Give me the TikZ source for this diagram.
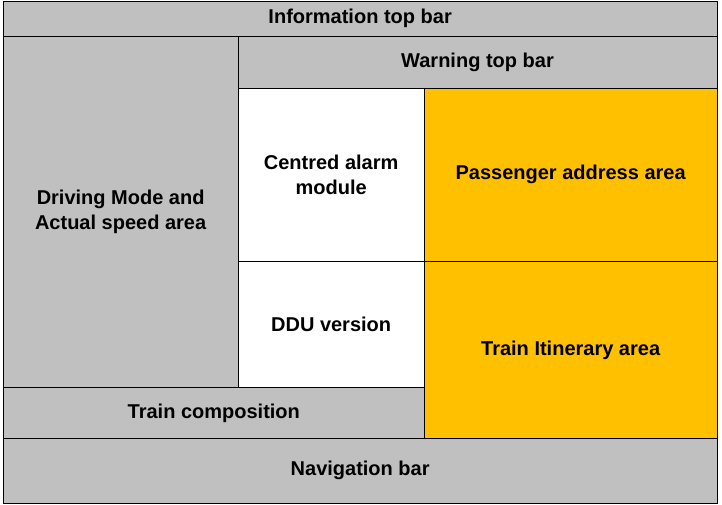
\documentclass[tikz,border=0pt]{standalone}
\usepackage{fontspec}
\setmainfont{Liberation Sans}
\tikzset{
  area/.style={draw, line width=1pt, inner sep=0pt, outer sep=0pt,
    anchor=north west, align=center,
    font=\fontsize{20}{25}\selectfont\bfseries},
  greyarea/.style={area, fill=barGrey},
  goldarea/.style={area, fill=areaGold},
  whitearea/.style={area, fill=white}
}
\definecolor{barGrey}{HTML}{C0C0C0}
\definecolor{areaGold}{HTML}{FFC000}
\begin{document}
\begin{tikzpicture}[x=1pt, y=1pt]
  \useasboundingbox (0,0) rectangle (722,-504);

  \node[greyarea, minimum width=713.7pt, minimum height=35.3pt]
    (info) at (3.3,-1) {Information top bar};
  \node[greyarea, minimum width=234.7pt, minimum height=351pt]
    (drive) at (3.3,-36.3) {Driving Mode and\\Actual speed area};
  \node[greyarea, minimum width=479pt, minimum height=52pt]
    (warn) at (238,-36.3) {Warning top bar};

  \node[whitearea, minimum width=186.3pt, minimum height=173pt]
    (alarm) at (238,-88.3) {Centred alarm\\module};
  \node[goldarea, minimum width=292.7pt, minimum height=173pt]
    (pass) at (424.3,-88.3) {Passenger address area};
  \node[whitearea, minimum width=186.3pt, minimum height=126pt]
    (ddu) at (238,-261.3) {DDU version};
  \node[goldarea, minimum width=292.7pt, minimum height=177.2pt]
    (itin) at (424.3,-261.3) {Train Itinerary area};

  \node[greyarea, minimum width=421pt, minimum height=51.2pt]
    (comp) at (3.3,-387.3) {Train composition};
  \node[greyarea, minimum width=713.7pt, minimum height=64.5pt]
    (nav) at (3.3,-438.5) {Navigation bar};
\end{tikzpicture}
\end{document}
